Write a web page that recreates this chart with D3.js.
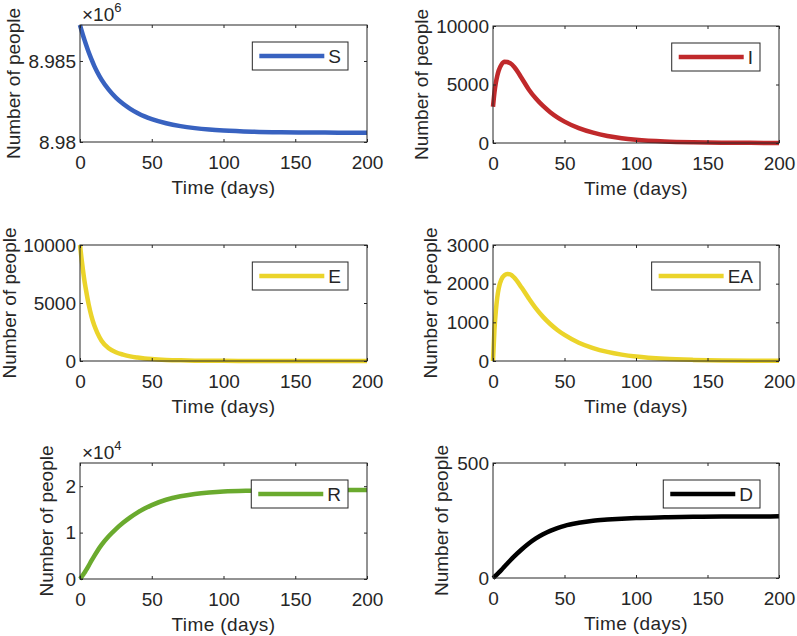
<!DOCTYPE html>
<html>
<head>
<meta charset="utf-8">
<script src="https://cdn.jsdelivr.net/npm/d3@7"></script>
<style>
html,body{margin:0;padding:0;background:#fff;}
svg{display:block;}
text{font-family:"Liberation Sans",Arial,Helvetica,sans-serif;fill:#262626;}
</style>
</head>
<body>
<svg id="chart" width="797" height="636"></svg>
<script>
// ---- data ----
const days = [0,1,2,3,4,6,8,10,12,15,20,25,30,35,40,45,50,60,70,80,90,100,120,140,160,180,200];
const seriesS = [8987220,8986910,8986610,8986330,8986060,8985550,8985100,8984680,8984320,8983850,8983230,8982740,8982360,8982050,8981795,8981580,8981415,8981160,8980980,8980857,8980770,8980710,8980638,8980603,8980586,8980578,8980574];
const seriesI = [3100,4300,5150,5750,6200,6720,6950,6920,6820,6480,5560,4580,3800,3165,2635,2195,1828,1270,880,600,410,280,130,60,28,13,6];
const seriesE = [10000,8900,7900,7000,6250,4900,3850,3050,2450,1750,1100,750,550,400,300,220,165,95,55,32,19,11,4,1.5,0.5,0.2,0.1];
const seriesEA = [0,800,1300,1650,1880,2120,2220,2250,2240,2150,1900,1620,1360,1141,957,803,674,474,334,235,165,116,58,29,14,7,3.5];
const seriesR = [0,400,850,1300,1800,2850,3950,5000,6000,7350,9200,10750,12100,13275,14300,15175,15925,17075,17825,18325,18655,18875,19030,19110,19150,19170,19180];
const seriesD = [0,5,11,17,23,36,50,63,76,95,124,150,172,190,205,217,227,240,249,254,258,261,264,266,267,267,268];
const legendNames = ["S","I","E","EA","R","D"];
const xTicks = [0,50,100,150,200];
const yTicksS = [8980000,8985000];
const yTicksI = [0,5000,10000];
const yTicksE = [0,5000,10000];
const yTicksEA = [0,1000,2000,3000];
const yTicksR = [0,10000,20000];
const yTicksD = [0,500];
const yDomains = [[8980000,8987220],[0,10000],[0,10000],[0,3000],[0,25000],[0,500]];
const exponents = [6,null,null,null,4,null];

// ---- layout / style ----
const colors = ["#3862c0","#c0292b","#ebd42a","#ebd42a","#6aaa2e","#000000"];
const panels = [
  {l:80,  t:25,  r:367, b:142, lab:20},
  {l:493, t:26,  r:779, b:143, lab:428},
  {l:80,  t:245, r:367, b:361, lab:16},
  {l:493, t:245, r:779, b:361, lab:437},
  {l:80,  t:463, r:367, b:579, lab:53},
  {l:493, t:463, r:779, b:578, lab:448}
];
const allSeries = [seriesS,seriesI,seriesE,seriesEA,seriesR,seriesD];
const allYTicks = [yTicksS,yTicksI,yTicksE,yTicksEA,yTicksR,yTicksD];
const FS = 19;
const svg = d3.select("#chart");
svg.append("rect").attr("width",797).attr("height",636).attr("fill","#fff");

panels.forEach((p,i)=>{
  const g = svg.append("g");
  const x = d3.scaleLinear().domain([0,200]).range([p.l,p.r]);
  const y = d3.scaleLinear().domain(yDomains[i]).range([p.b,p.t]);
  const exp = exponents[i];
  const fmt = exp ? (d=>String(+(d/Math.pow(10,exp)).toFixed(4))) : (d=>String(d));

  // data line
  const line = d3.line().x((d,k)=>x(days[k])).y(d=>y(d)).curve(d3.curveMonotoneX);
  g.append("path").datum(allSeries[i]).attr("d",line)
    .attr("fill","none").attr("stroke",colors[i]).attr("stroke-width",4.5)
    .attr("stroke-linejoin","round");

  // axes (MATLAB-like ticks inside, on all sides)
  const tl = 3;
  const axB = g.append("g").attr("transform",`translate(0,${p.b})`)
    .call(d3.axisBottom(x).tickValues(xTicks).tickSize(-tl).tickPadding(14).tickFormat(d=>d));
  const axT = g.append("g").attr("transform",`translate(0,${p.t})`)
    .call(d3.axisTop(x).tickValues(xTicks).tickSize(-tl).tickFormat(""));
  const axL = g.append("g").attr("transform",`translate(${p.l},0)`)
    .call(d3.axisLeft(y).tickValues(allYTicks[i]).tickSize(-tl).tickPadding(4).tickFormat(fmt));
  const axR = g.append("g").attr("transform",`translate(${p.r},0)`)
    .call(d3.axisRight(y).tickValues(allYTicks[i]).tickSize(-tl).tickFormat(""));
  [axB,axT,axL,axR].forEach(a=>{
    a.select(".domain").remove();
    a.selectAll("line").attr("stroke","#262626");
    a.selectAll("text").style("font-family",'"Liberation Sans",Arial,sans-serif').style("font-size",FS+"px").attr("fill","#262626");
  });
  // box
  g.append("rect").attr("x",p.l).attr("y",p.t).attr("width",p.r-p.l).attr("height",p.b-p.t)
    .attr("fill","none").attr("stroke","#262626").attr("stroke-width",1);

  // exponent label
  if(exp){
    const t = g.append("text").attr("x",p.l+2).attr("y",p.t-4).style("font-size",FS+"px");
    t.append("tspan").text("×10");
    t.append("tspan").attr("dy",-9).style("font-size","13px").text(exp);
  }

  // axis labels
  g.append("text").attr("x",(p.l+p.r)/2).attr("y",p.b+52).attr("text-anchor","middle")
    .style("font-size",FS+"px").style("letter-spacing","0.4px").text("Time (days)");
  g.append("text").attr("transform",`translate(${p.lab},${(p.t+p.b)/2}) rotate(-90)`)
    .attr("text-anchor","middle").style("font-size",FS+"px").text("Number of people");

  // legend
  const lg = g.append("g");
  const lt = lg.append("text").style("font-size",FS+"px").text(legendNames[i]);
  const tw = lt.node().getComputedTextLength();
  const w = 7+65+4+tw+7;
  const x1 = p.r-19, x0 = x1-w, y0 = p.t+17, h = 28;
  lg.insert("rect","text").attr("x",x0).attr("y",y0).attr("width",w).attr("height",h)
    .attr("fill","#fff").attr("stroke","#262626").attr("stroke-width",1);
  lg.insert("line","text").attr("x1",x0+7).attr("x2",x0+72).attr("y1",y0+h/2).attr("y2",y0+h/2)
    .attr("stroke",colors[i]).attr("stroke-width",4.5);
  lt.attr("x",x0+76).attr("y",y0+h/2+7);
});
</script>
</body>
</html>
